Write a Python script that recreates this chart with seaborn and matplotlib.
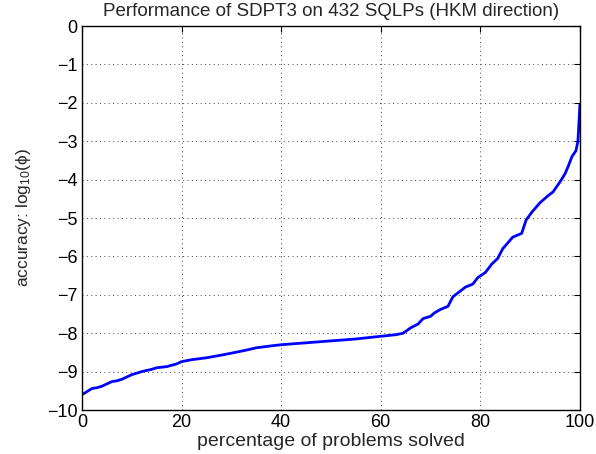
import matplotlib
matplotlib.use("Agg")
import matplotlib.pyplot as plt
import seaborn as sns
import pandas as pd

# percentage of problems solved
pct = [0, 1, 2, 3, 4, 5, 6, 7, 8, 10, 12, 14, 15, 17, 19, 20, 22, 25, 28, 30, 33, 35, 38,
       40, 45, 50, 55, 60, 63, 64.5, 66, 67.5, 68.5, 70, 70.8, 72, 73.5, 74.5, 76, 77, 78.5,
       79.5, 81, 82.3, 83.5, 84.5, 86.5, 88.3, 89.2, 90.4, 92, 93.6, 94.6, 96, 97, 97.6,
       98.4, 99.2, 99.6, 100]
# accuracy: log10(phi)
acc = [-9.6, -9.52, -9.44, -9.42, -9.38, -9.32, -9.26, -9.24, -9.2, -9.08, -9.0, -8.94,
       -8.9, -8.87, -8.8, -8.74, -8.69, -8.64, -8.57, -8.52, -8.44, -8.38, -8.33,
       -8.3, -8.25, -8.2, -8.15, -8.08, -8.04, -8.0, -7.86, -7.76, -7.62, -7.56, -7.47,
       -7.38, -7.3, -7.05, -6.9, -6.8, -6.72, -6.55, -6.42, -6.2, -6.05, -5.8, -5.5,
       -5.4, -5.05, -4.84, -4.6, -4.42, -4.32, -4.06, -3.85, -3.67, -3.4, -3.25, -3.0, -2.05]

df = pd.DataFrame({"pct": pct, "acc": acc})

sns.set_style("white")
plt.rcParams["font.family"] = ["Liberation Sans", "DejaVu Sans"]
plt.rcParams["mathtext.fontset"] = "custom"
plt.rcParams["mathtext.rm"] = "Liberation Sans"
plt.rcParams["mathtext.it"] = "Liberation Sans"

fig = plt.figure(figsize=(5.96, 4.54), dpi=100)
ax = fig.add_axes([0.1376, 0.0969, 0.8354, 0.8458])

sns.lineplot(data=df, x="pct", y="acc", ax=ax, color=(0, 0, 1), linewidth=2.0,
             estimator=None, sort=False)

ax.set_xlim(0, 100)
ax.set_ylim(-10, 0)
ax.set_xticks([0, 20, 40, 60, 80, 100])
ax.set_yticks(range(-10, 1))
ax.set_yticklabels(["\u221210", "\u22129", "\u22128", "\u22127", "\u22126", "\u22125",
                    "\u22124", "\u22123", "\u22122", "\u22121", "0"])
ax.grid(True, linestyle=(0, (1, 3.5)), color="#444444", linewidth=0.7)
for s in ax.spines.values():
    s.set_visible(True)
    s.set_color("black")
    s.set_linewidth(1.0)
ax.tick_params(direction="in", length=4, width=0.8, top=True, right=True,
               labelsize=13, pad=3, colors="black")
ax.set_title("Performance of SDPT3 on 432 SQLPs (HKM direction)", fontsize=13.5, pad=7)
ax.set_xlabel("percentage of problems solved", fontsize=14, labelpad=1)
ax.set_ylabel(r"accuracy: log$_{10}$($\phi$)", fontsize=12.5, labelpad=10)

fig.savefig("out.png", dpi=100)
